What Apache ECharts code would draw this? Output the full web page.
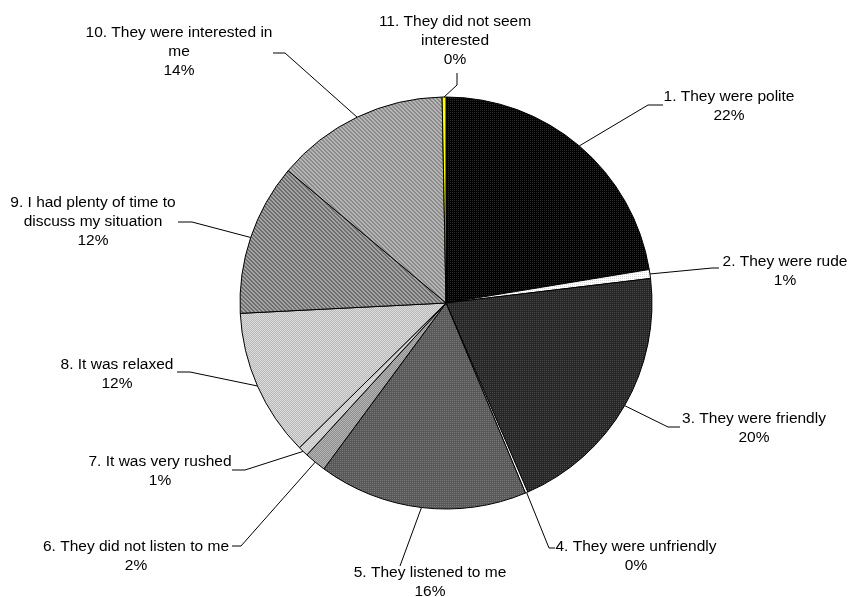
<!DOCTYPE html>
<html>
<head>
<meta charset="utf-8">
<script src="https://cdn.jsdelivr.net/npm/echarts@6/dist/echarts.min.js"></script>
<style>
  html, body { margin: 0; padding: 0; background: #fff; }
  #chart { width: 848px; height: 597px; }
</style>
</head>
<body>
<div id="chart"></div>
<script>
// Survey responses: how the appointment felt (share of all answers, %)
const categories = [
  '1. They were polite',
  '2. They were rude',
  '3. They were friendly',
  '4. They were unfriendly',
  '5. They listened to me',
  '6. They did not listen to me',
  '7. It was very rushed',
  '8. It was relaxed',
  '9. I had plenty of time to\ndiscuss my situation',
  '10. They were interested in\nme',
  '11. They did not seem\ninterested'
];
const shares = [22.4, 0.7, 20.4, 0.2, 16.4, 1.7, 0.8, 11.6, 11.9, 13.6, 0.3];

// Label placement: text centre, leader elbow and leader end (page pixels)
const labelCentre = [
  [729, 106], [785, 271], [754, 428], [636, 556], [430, 582], [136, 556],
  [160, 471], [117, 374], [93, 222], [179, 52], [455, 41]
];
const leaderElbow = [
  [648, 105], [712, 268], [668, 427], [549, 548], [400, 566], [241, 546],
  [245, 470], [190, 372], [192, 222], [285, 53], [457, 85]
];
const leaderEnd = [
  [663, 105], [719, 268], [680, 427], [555, 548], [400, 566], [232, 546],
  [232, 470], [177, 372], [178, 222], [273, 53], [457, 73]
];

// Small repeating fills that imitate the printed hatch patterns
function makePattern(bg, fg, kind) {
  const c = document.createElement('canvas');
  c.width = 4; c.height = 4;
  const g = c.getContext('2d');
  g.fillStyle = bg; g.fillRect(0, 0, 4, 4);
  g.fillStyle = fg;
  if (kind === 'dots') {
    g.fillRect(0, 0, 1, 1); g.fillRect(2, 0, 1, 1);
    g.fillRect(0, 2, 1, 1); g.fillRect(2, 2, 1, 1);
  } else if (kind === 'check') {
    for (let y = 0; y < 4; y++) for (let x = 0; x < 4; x++) if ((x + y) % 2 === 0) g.fillRect(x, y, 1, 1);
  } else if (kind === 'diag') {
    for (let i = 0; i < 4; i++) { g.fillRect(i, i, 1, 1); g.fillRect((i + 1) % 4, i, 1, 1); }
  }
  return { image: c, repeat: 'repeat' };
}

const fills = [
  makePattern('#000000', '#2a2a2a', 'dots'),
  makePattern('#ffffff', '#d8d8d8', 'dots'),
  makePattern('#262626', '#4a4a4a', 'dots'),
  '#ffffff',
  makePattern('#585858', '#7a7a7a', 'dots'),
  makePattern('#8e8e8e', '#b4b4b4', 'check'),
  makePattern('#c0c0c0', '#e0e0e0', 'check'),
  makePattern('#b8b8b8', '#dcdcdc', 'check'),
  makePattern('#6e6e6e', '#a4a4a4', 'diag'),
  makePattern('#8a8a8a', '#b6b6b6', 'diag'),
  '#ffff00'
];

const chart = echarts.init(document.getElementById('chart'), null, { renderer: 'canvas' });

chart.setOption({
  animation: false,
  backgroundColor: '#ffffff',
  series: [{
    type: 'pie',
    center: [446, 303],
    radius: 206,
    startAngle: 90,
    clockwise: true,
    avoidLabelOverlap: false,
    minShowLabelAngle: 0,
    data: categories.map((name, i) => ({
      name: name,
      value: shares[i],
      itemStyle: { color: fills[i] }
    })),
    itemStyle: { borderColor: '#000000', borderWidth: 1 },
    emphasis: { disabled: true },
    label: {
      show: true,
      position: 'outside',
      fontFamily: 'Liberation Sans, Arial, sans-serif',
      fontSize: 15.5,
      lineHeight: 19,
      color: '#000000',
      align: 'center',
      formatter: p => p.name + '\n' + Math.round(p.value) + '%'
    },
    labelLine: {
      show: true,
      length: 10,
      length2: 10,
      smooth: false,
      lineStyle: { color: '#000000', width: 1 }
    },
    labelLayout: function (params) {
      const i = params.dataIndex;
      const start = params.labelLinePoints ? params.labelLinePoints[0] : leaderElbow[i];
      return {
        x: labelCentre[i][0],
        y: labelCentre[i][1],
        align: 'center',
        verticalAlign: 'middle',
        labelLinePoints: [start, leaderElbow[i], leaderEnd[i]]
      };
    }
  }]
});
</script>
</body>
</html>
